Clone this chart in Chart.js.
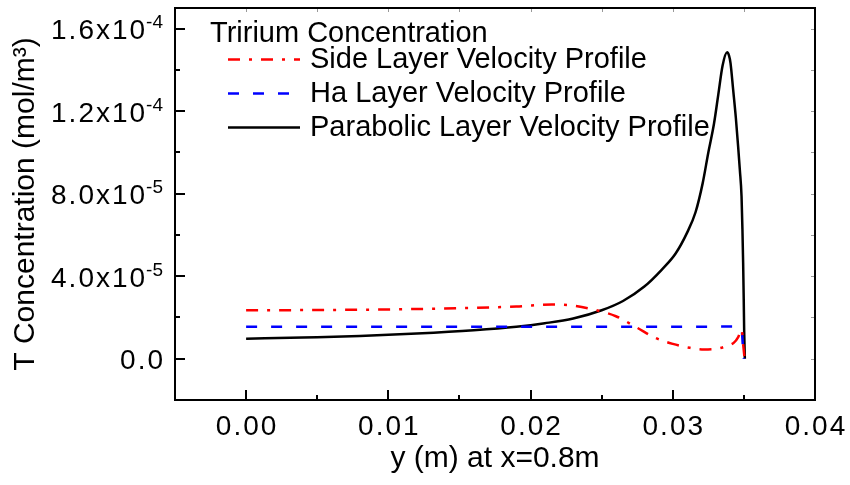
<!DOCTYPE html>
<html>
<head>
<meta charset="utf-8">
<script src="https://cdn.jsdelivr.net/npm/chart.js@4"></script>
<style>
  html, body { margin: 0; padding: 0; background: #fff; }
</style>
</head>
<body>
<canvas id="chart" width="850" height="485"></canvas>
<script>
// === values ===
const sideX = [0, 0.005, 0.01, 0.015, 0.019, 0.0215, 0.023, 0.0244, 0.026, 0.0275, 0.0288, 0.03, 0.0312, 0.0322, 0.0332, 0.0338, 0.0343, 0.0346, 0.03484, 0.03495, 0.03505];
const sideY = [2.35e-5, 2.36e-5, 2.39e-5, 2.45e-5, 2.53e-5, 2.63e-5, 2.57e-5, 2.39e-5, 2.06e-5, 1.5e-5, 1.0e-5, 7.2e-6, 5.3e-6, 4.5e-6, 5.0e-6, 6.2e-6, 7.8e-6, 1.05e-5, 1.42e-5, 7e-6, 0];

const haX = [0, 0.01, 0.02, 0.03, 0.0344, 0.0347, 0.03485, 0.03493, 0.035];
const haY = [1.55e-5, 1.55e-5, 1.55e-5, 1.55e-5, 1.56e-5, 1.52e-5, 1.35e-5, 6e-6, 0];

const parabolicX = [0, 0.004, 0.008, 0.012, 0.016, 0.019, 0.021, 0.023, 0.025, 0.0265, 0.028, 0.0292, 0.0302, 0.031, 0.0316, 0.0321, 0.0325, 0.0329, 0.0332, 0.0335, 0.03382, 0.03395, 0.03406, 0.034245, 0.034434, 0.034596, 0.034715, 0.034835, 0.034898, 0.034947, 0.034989, 0.035018, 0.035067];
const parabolicY = [9.7e-6, 1.03e-5, 1.1e-5, 1.22e-5, 1.38e-5, 1.55e-5, 1.72e-5, 1.95e-5, 2.35e-5, 2.8e-5, 3.5e-5, 4.3e-5, 5.1e-5, 6.1e-5, 7.1e-5, 8.5e-5, 1.0e-4, 1.14e-4, 1.28e-4, 1.42e-4, 1.485e-4, 1.47e-4, 1.433e-4, 1.304e-4, 1.168e-4, 1.028e-4, 9.16e-5, 7.87e-5, 6.26e-5, 4.65e-5, 2.87e-5, 1.42e-5, 0];

const legendTitle = 'Tririum Concentration';
const seriesLabels = ['Side Layer Velocity Profile', 'Ha Layer Velocity Profile', 'Parabolic Layer Velocity Profile'];

const xTicks = [0, 0.01, 0.02, 0.03, 0.04];
const xTickLabels = ['0.00', '0.01', '0.02', '0.03', '0.04'];
const xMinorTicks = [0.005, 0.015, 0.025, 0.035];

const yTicks = [0, 4e-5, 8e-5, 1.2e-4, 1.6e-4];
const yTickBase = ['0.0', '4.0x10', '8.0x10', '1.2x10', '1.6x10'];
const yTickExp = ['', '-5', '-5', '-4', '-4'];
const yMinorTicks = [2e-5, 6e-5, 1e-4, 1.4e-4];

const FONT = "'Liberation Sans', Arial, sans-serif";

function toPoints(xs, ys) {
  return xs.map((x, i) => ({ x: x, y: ys[i] }));
}

// frame, inward ticks and tick labels (with superscript exponents)
const axesPlugin = {
  id: 'axesPlugin',
  afterDatasetsDraw(chart) {
    const ctx = chart.ctx;
    const a = chart.chartArea;
    const xs = chart.scales.x, ys = chart.scales.y;
    ctx.save();

    // mirrored ticks on top / right (faint)
    ctx.strokeStyle = '#999';
    ctx.lineWidth = 1;
    ctx.beginPath();
    xTicks.concat(xMinorTicks).forEach(v => {
      const px = Math.round(xs.getPixelForValue(v)) + 0.5;
      ctx.moveTo(px, a.top); ctx.lineTo(px, a.top + 4);
    });
    yTicks.concat(yMinorTicks).forEach(v => {
      const py = Math.round(ys.getPixelForValue(v)) + 0.5;
      ctx.moveTo(a.right, py); ctx.lineTo(a.right - 4, py);
    });
    ctx.stroke();

    // main ticks bottom / left
    ctx.strokeStyle = '#000';
    ctx.lineWidth = 2;
    ctx.beginPath();
    xTicks.forEach(v => {
      const px = Math.round(xs.getPixelForValue(v));
      ctx.moveTo(px, a.bottom); ctx.lineTo(px, a.bottom - 10);
    });
    xMinorTicks.forEach(v => {
      const px = Math.round(xs.getPixelForValue(v));
      ctx.moveTo(px, a.bottom); ctx.lineTo(px, a.bottom - 5);
    });
    yTicks.forEach(v => {
      const py = Math.round(ys.getPixelForValue(v));
      ctx.moveTo(a.left, py); ctx.lineTo(a.left + 10, py);
    });
    yMinorTicks.forEach(v => {
      const py = Math.round(ys.getPixelForValue(v));
      ctx.moveTo(a.left, py); ctx.lineTo(a.left + 5, py);
    });
    ctx.stroke();

    // frame
    ctx.lineWidth = 2;
    ctx.strokeRect(a.left, a.top, a.right - a.left, a.bottom - a.top);

    // x tick labels
    ctx.fillStyle = '#000';
    ctx.font = '28px ' + FONT;
    ctx.letterSpacing = '2px';
    ctx.textAlign = 'center';
    ctx.textBaseline = 'alphabetic';
    xTicks.forEach((v, i) => {
      ctx.fillText(xTickLabels[i], xs.getPixelForValue(v) + 1, a.bottom + 35);
    });

    // y tick labels
    const rightEdge = 163;
    yTicks.forEach((v, i) => {
      const py = ys.getPixelForValue(v);
      ctx.textAlign = 'right';
      let end = rightEdge;
      if (yTickExp[i]) {
        ctx.font = '19px ' + FONT;
        ctx.letterSpacing = '0px';
        ctx.fillText(yTickExp[i], rightEdge, py - 0.5);
        end = rightEdge - ctx.measureText(yTickExp[i]).width - 1;
      }
      ctx.font = '28px ' + FONT;
      ctx.letterSpacing = '2px';
      ctx.fillText(yTickBase[i], end + 2, py + 10.5);
    });
    ctx.letterSpacing = '0px';
    ctx.restore();
  }
};

// legend box with title, drawn from the datasets' own styles
const legendPlugin = {
  id: 'legendPlugin',
  afterDraw(chart) {
    const ctx = chart.ctx;
    ctx.save();
    ctx.fillStyle = '#000';
    ctx.font = '29px ' + FONT;
    ctx.textAlign = 'left';
    ctx.textBaseline = 'alphabetic';
    ctx.fillText(legendTitle, 210, 41.5);
    chart.data.datasets.forEach((ds, i) => {
      const ly = 59.5 + i * 34;
      ctx.strokeStyle = ds.borderColor;
      ctx.lineWidth = ds.borderWidth;
      ctx.setLineDash(ds.borderDash || []);
      ctx.beginPath();
      ctx.moveTo(228, ly);
      ctx.lineTo(300, ly);
      ctx.stroke();
      ctx.setLineDash([]);
      ctx.fillText(ds.label, 310, ly + 8.5);
    });
    ctx.restore();
  }
};

new Chart(document.getElementById('chart').getContext('2d'), {
  type: 'line',
  data: {
    datasets: [
      {
        label: seriesLabels[0],
        data: toPoints(sideX, sideY),
        borderColor: '#ff0000',
        borderWidth: 2.5,
        borderDash: [12, 9, 3, 9]
      },
      {
        label: seriesLabels[1],
        data: toPoints(haX, haY),
        borderColor: '#0000ff',
        borderWidth: 2.5,
        borderDash: [11, 14]
      },
      {
        label: seriesLabels[2],
        data: toPoints(parabolicX, parabolicY),
        borderColor: '#000000',
        borderWidth: 2.5
      }
    ]
  },
  options: {
    responsive: false,
    animation: false,
    devicePixelRatio: 1,
    cubicInterpolationMode: 'monotone',
    elements: { point: { radius: 0 } },
    layout: { padding: { top: 8, right: 35, left: 0, bottom: 0 } },
    plugins: {
      legend: { display: false },
      tooltip: { enabled: false }
    },
    scales: {
      x: {
        type: 'linear',
        min: -0.005,
        max: 0.04,
        ticks: { display: false },
        grid: { display: false },
        border: { display: false },
        title: {
          display: true,
          text: 'y (m) at x=0.8m',
          color: '#000',
          font: { family: FONT, size: 30 },
          padding: { top: 0, bottom: 8 }
        },
        afterFit(scale) { scale.height = 85; }
      },
      y: {
        type: 'linear',
        min: -2e-5,
        max: 1.7e-4,
        ticks: { display: false },
        grid: { display: false },
        border: { display: false },
        title: {
          display: true,
          text: 'T Concentration (mol/m³)',
          color: '#000',
          font: { family: FONT, size: 30 },
          padding: { top: 8, bottom: 0 }
        },
        afterFit(scale) { scale.width = 175; }
      }
    }
  },
  plugins: [axesPlugin, legendPlugin]
});
</script>
</body>
</html>
